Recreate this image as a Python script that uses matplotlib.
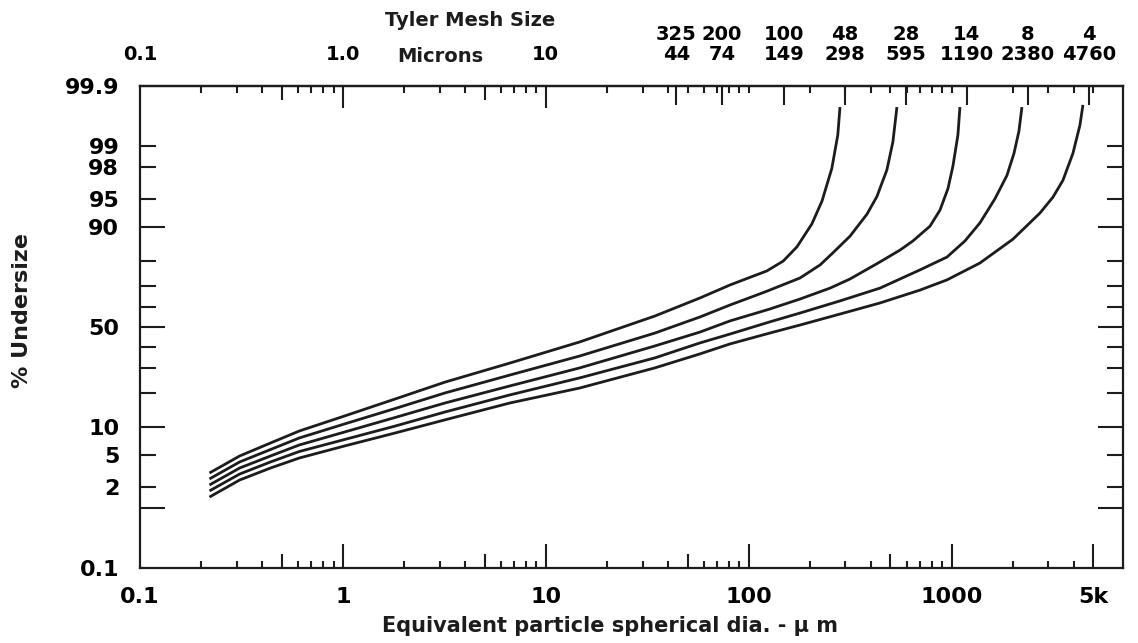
import math
import numpy as np
import matplotlib
matplotlib.use('Agg')
import matplotlib.pyplot as plt

plt.rcParams['font.family'] = ['DejaVu Sans']
plt.rcParams['font.weight'] = 'bold'

# values: particle size (um) vs cumulative % undersize,
# one curve for each top size (48, 28, 14, 8 and 4 mesh)
size_48 = [0.22, 0.31, 0.44, 0.61, 1.02, 1.81, 3.19, 6.66, 14.7, 34.5, 57.5, 80.9,
           123, 148, 173, 205, 230, 257, 275, 282]
pct_48 = [3.06, 4.91, 6.85, 9.12, 12.7, 17.8, 24.0, 32.2, 42.4, 55.6, 64.5, 70.5,
          76.4, 80.1, 84.8, 90.7, 94.7, 97.9, 99.31, 99.76]

size_28 = [0.22, 0.31, 0.44, 0.61, 1.02, 1.81, 3.19, 6.66, 14.7, 34.5, 57.5, 80.9,
           120, 179, 225, 260, 316, 383, 429, 480, 514, 538]
pct_28 = [2.57, 4.18, 5.81, 7.74, 10.7, 14.8, 19.9, 26.9, 35.5, 46.9, 55.1, 61.1,
          67.3, 73.5, 78.7, 82.9, 87.8, 92.6, 95.3, 97.8, 99.12, 99.76]

size_14 = [0.22, 0.31, 0.44, 0.61, 1.02, 1.81, 3.19, 6.66, 14.7, 34.5, 57.5, 80.9,
           127, 179, 252, 316, 444, 557, 645, 783, 877, 960, 1016, 1075, 1100]
pct_14 = [2.14, 3.53, 4.91, 6.52, 8.91, 12.3, 16.5, 22.5, 30.0, 40.4, 47.4, 53.1,
          59.1, 64.0, 69.1, 73.1, 79.8, 83.8, 86.5, 90.2, 93.3, 96.2, 98.05, 99.31, 99.76]

size_8 = [0.22, 0.31, 0.44, 0.61, 1.02, 1.81, 3.19, 6.66, 14.7, 34.5, 57.5, 80.9,
          127, 179, 282, 444, 699, 949, 1164, 1380, 1637, 1875, 2031, 2149, 2223]
pct_8 = [1.78, 2.97, 4.18, 5.52, 7.46, 10.2, 13.8, 19.2, 25.7, 34.6, 41.9, 46.4,
         52.6, 57.1, 63.1, 69.1, 76.8, 81.5, 86.5, 90.9, 95.0, 97.4, 98.7, 99.40, 99.76]

size_4 = [0.22, 0.31, 0.44, 0.61, 1.02, 1.81, 3.19, 6.66, 14.7, 34.5, 57.5, 80.9,
          127, 179, 282, 444, 699, 949, 1380, 2008, 2727, 3160, 3540, 3965, 4295, 4443]
pct_4 = [1.46, 2.49, 3.53, 4.65, 6.36, 8.71, 11.7, 16.5, 21.7, 30.0, 36.5, 41.4,
         46.9, 51.0, 56.6, 62.1, 68.2, 72.7, 79.4, 87.0, 92.8, 95.2, 97.0, 98.7, 99.52, 99.78]

# Tyler mesh numbers and their openings in microns (top scale)
mesh_no = ['325', '200', '100', '48', '28', '14', '8', '4']
mesh_um = [44, 74, 149, 298, 595, 1190, 2380, 4760]

x_labels = {0.1: '0.1', 1: '1', 10: '10', 100: '100', 1000: '1000', 5000: '5k'}
top_labels = {0.1: '0.1', 1: '1.0', 10: '10'}
y_ticks = [0.1, 1, 2, 5, 10, 20, 30, 40, 50, 60, 70, 80, 90, 95, 98, 99, 99.9]
y_labels = {0.1: '0.1', 2: '2', 5: '5', 10: '10', 50: '50', 90: '90',
            95: '95', 98: '98', 99: '99', 99.9: '99.9'}


# probability scale (normal quantile), Acklam's approximation
A = [-3.969683028665376e+01, 2.209460984245205e+02, -2.759285104469687e+02,
     1.383577518672690e+02, -3.066479806614716e+01, 2.506628277459239e+00]
B = [-5.447609879822406e+01, 1.615858368580409e+02, -1.556989798598866e+02,
     6.680131188771972e+01, -1.328068155288572e+01]
C = [-7.784894002430293e-03, -3.223964580411365e-01, -2.400758277161838e+00,
     -2.549671010115111e+00, 4.374664141464968e+00, 2.938163982698783e+00]
D = [7.784695709041462e-03, 3.224671290700398e-01, 2.445134137142996e+00,
     3.754408661907416e+00]


def _ppf(p):
    p = min(max(p, 1e-12), 1 - 1e-12)
    if p < 0.02425:
        q = math.sqrt(-2 * math.log(p))
        return (((((C[0]*q+C[1])*q+C[2])*q+C[3])*q+C[4])*q+C[5]) / \
            ((((D[0]*q+D[1])*q+D[2])*q+D[3])*q+1)
    if p > 1 - 0.02425:
        q = math.sqrt(-2 * math.log(1 - p))
        return -(((((C[0]*q+C[1])*q+C[2])*q+C[3])*q+C[4])*q+C[5]) / \
            ((((D[0]*q+D[1])*q+D[2])*q+D[3])*q+1)
    q = p - 0.5
    r = q * q
    return (((((A[0]*r+A[1])*r+A[2])*r+A[3])*r+A[4])*r+A[5])*q / \
        (((((B[0]*r+B[1])*r+B[2])*r+B[3])*r+B[4])*r+1)


_vppf = np.vectorize(_ppf, otypes=[float])
_verf = np.vectorize(math.erf, otypes=[float])


def prob_fwd(y):
    return _vppf(np.asarray(y, dtype=float) / 100.0)


def prob_inv(z):
    return 50.0 * (1 + _verf(np.asarray(z, dtype=float) / math.sqrt(2)))


def mantissa(v):
    return round(v / 10 ** math.floor(math.log10(v) + 1e-9), 6)


fig = plt.figure(figsize=(11.38, 6.43), dpi=100)
ax = fig.add_axes([140 / 1138, 1 - 568 / 643, 983 / 1138, 482 / 643])
ink = '#1c1c1c'

for xs, ys in [(size_48, pct_48), (size_28, pct_28), (size_14, pct_14),
               (size_8, pct_8), (size_4, pct_4)]:
    ax.plot(xs, ys, color=ink, lw=2.0, solid_capstyle='butt', solid_joinstyle='round')

ax.set_xscale('log')
ax.set_yscale('function', functions=(prob_fwd, prob_inv))
ax.set_xlim(0.1, 7000)
ax.set_ylim(0.1, 99.9)

for s in ax.spines.values():
    s.set_linewidth(1.6)
    s.set_color(ink)

# bottom scale
log_ticks = sorted(set(round(k * 10.0 ** e, 6) for e in range(-1, 4) for k in range(1, 10)))
log_ticks = [v for v in log_ticks if v <= 5000]
ax.set_xticks(log_ticks, [x_labels.get(v, '') for v in log_ticks])
ax.xaxis.set_minor_locator(matplotlib.ticker.NullLocator())
ax.tick_params(axis='x', which='major', direction='in', width=1.5, pad=14,
               labelsize=16, color=ink, top=False)
for v, t in zip(log_ticks, ax.xaxis.get_major_ticks()):
    m = mantissa(v)
    L = 17 if (m == 1 or v == 5000) else (10 if m == 5 else 5)
    if v == 0.1:
        L = 0
    t.tick1line.set_markersize(L)

# probability scale on both sides
ax.set_yticks(y_ticks, [y_labels.get(v, '') for v in y_ticks])
ax.yaxis.set_minor_locator(matplotlib.ticker.NullLocator())
ax.tick_params(axis='y', which='major', direction='in', width=1.5, pad=15,
               labelsize=16, color=ink, right=True)
for v, t in zip(y_ticks, ax.yaxis.get_major_ticks()):
    L = 18 if v in (1, 10, 50, 90) else 11.5
    if v in (0.1, 99.9):
        L = 0
    t.tick1line.set_markersize(L)
    t.tick2line.set_markersize(L)

# top scale: microns and Tyler mesh
top = ax.secondary_xaxis('top')
top_ticks = sorted(set(log_ticks + mesh_um))
mesh_lbl = {u: n + '\n' + str(u) for n, u in zip(mesh_no, mesh_um)}
top.set_xticks(top_ticks, [mesh_lbl.get(v, top_labels.get(v, '')) for v in top_ticks])
top.xaxis.set_minor_locator(matplotlib.ticker.NullLocator())
top.tick_params(axis='x', which='major', direction='in', width=1.5, pad=16,
                labelsize=14, color=ink)
for lab in top.get_xticklabels():
    lab.set_linespacing(1.05)
top.spines['top'].set_linewidth(1.6)
for v, t in zip(top_ticks, top.xaxis.get_major_ticks()):
    m = mantissa(v)
    if v in mesh_um:
        L = 14
    elif v in (1, 10):
        L = 16
    elif v in (0.5, 5):
        L = 10
    else:
        L = 5
    if v == 0.1:
        L = 0
    t.tick2line.set_markersize(L)
    t.tick1line.set_markersize(L)

fig.text(470 / 1138, 1 - 20 / 643, 'Tyler Mesh Size', ha='center', va='center',
         fontsize=14, fontweight='bold', color=ink)
fig.text(440 / 1138, 1 - 57 / 643, 'Microns', ha='center', va='center',
         fontsize=14, fontweight='bold', color=ink)

ax.set_xlabel('Equivalent particle spherical dia. - \u03bc m', fontsize=15,
              fontweight='bold', color=ink)
ax.xaxis.set_label_coords(0.478, -0.10)
ax.set_ylabel('% Undersize', fontsize=16, fontweight='bold', color=ink)
ax.yaxis.set_label_coords(-0.11, 0.535)

fig.savefig('out.png', dpi=100)
